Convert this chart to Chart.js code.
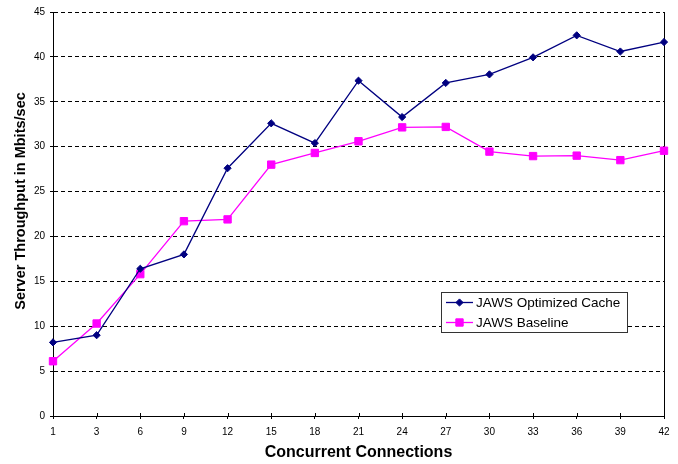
<!DOCTYPE html>
<html>
<head>
<meta charset="utf-8">
<script src="https://cdn.jsdelivr.net/npm/chart.js@4/dist/chart.umd.min.js"></script>
<style>
  html, body { margin: 0; padding: 0; background: #fff; }
  #wrap { width: 678px; height: 464px; }
</style>
</head>
<body>
<div id="wrap"><canvas id="c" width="678" height="464"></canvas></div>
<script>
// Concurrent connections (x categories)
const connections = ['1', '3', '6', '9', '12', '15', '18', '21', '24', '27', '30', '33', '36', '39', '42'];
// Server throughput in Mbits/sec
const optimizedCache = [8.2, 9.0, 16.4, 18.0, 27.6, 32.6, 30.4, 37.35, 33.3, 37.1, 38.05, 39.95, 42.4, 40.6, 41.65];
const baseline = [6.1, 10.3, 15.8, 21.7, 21.9, 28.0, 29.3, 30.6, 32.15, 32.2, 29.45, 28.95, 29.0, 28.5, 29.55];
// Y axis range and step
const yMin = 0, yMax = 45, yStep = 5;

const seriesNames = ['JAWS Optimized Cache', 'JAWS Baseline'];
const FONT = "'Liberation Sans', Arial, Helvetica, sans-serif";

Chart.defaults.font.family = FONT;
Chart.defaults.color = '#000';

function drawMarker(ctx, style, x, y, r, fill, stroke) {
  ctx.save();
  ctx.fillStyle = fill;
  ctx.strokeStyle = stroke;
  ctx.lineWidth = 1;
  ctx.beginPath();
  if (style === 'rectRot') {
    ctx.moveTo(x - r, y); ctx.lineTo(x, y - r); ctx.lineTo(x + r, y); ctx.lineTo(x, y + r);
    ctx.closePath();
  } else {
    const s = Math.SQRT1_2 * r;
    ctx.rect(x - s, y - s, 2 * s, 2 * s);
  }
  ctx.fill(); ctx.stroke();
  ctx.restore();
}

// Frame details: right border, inner x tick marks, rotated y title, boxed legend
const framePlugin = {
  id: 'frame',
  beforeDatasetsDraw(chart) {
    const { ctx, chartArea: a, scales } = chart;
    ctx.save();
    ctx.strokeStyle = '#000';
    ctx.lineWidth = 1;
    ctx.beginPath();
    ctx.moveTo(Math.round(a.right) + 0.5, a.top);
    ctx.lineTo(Math.round(a.right) + 0.5, a.bottom);
    connections.forEach((c, i) => {
      const x = Math.round(scales.x.getPixelForValue(i)) + 0.5;
      ctx.moveTo(x, a.bottom - 3);
      ctx.lineTo(x, a.bottom);
    });
    ctx.stroke();
    ctx.restore();
  },
  afterDraw(chart) {
    const { ctx } = chart;
    // y axis title
    ctx.save();
    ctx.translate(21, 201);
    ctx.rotate(-Math.PI / 2);
    ctx.font = 'bold 14.5px ' + FONT;
    ctx.fillStyle = '#000';
    ctx.textAlign = 'center';
    ctx.textBaseline = 'middle';
    ctx.fillText('Server Throughput in Mbits/sec', 0, 0);
    ctx.restore();

    // legend
    const bx = 441, by = 292, bw = 186, bh = 40;
    ctx.save();
    ctx.fillStyle = '#fff';
    ctx.fillRect(bx, by, bw, bh);
    ctx.strokeStyle = '#333';
    ctx.lineWidth = 1;
    ctx.strokeRect(bx + 0.5, by + 0.5, bw, bh);
    ctx.font = '13.5px ' + FONT;
    ctx.textBaseline = 'middle';
    chart.data.datasets.forEach((ds, i) => {
      const y = by + 10.5 + i * 20;
      ctx.strokeStyle = ds.borderColor;
      ctx.lineWidth = 1.3;
      ctx.beginPath();
      ctx.moveTo(446, y); ctx.lineTo(473, y);
      ctx.stroke();
      drawMarker(ctx, ds.pointStyle, 459.5, y, ds.pointRadius, ds.pointBackgroundColor, ds.pointBorderColor);
      ctx.fillStyle = '#000';
      ctx.fillText(ds.label, 476, y + 0.5);
    });
    ctx.restore();
  }
};

new Chart(document.getElementById('c'), {
  type: 'line',
  data: {
    labels: connections,
    datasets: [
      {
        label: seriesNames[0],
        data: optimizedCache,
        borderColor: '#000080',
        borderWidth: 1.3,
        pointStyle: 'rectRot',
        pointRadius: 3.6,
        pointBackgroundColor: '#000080',
        pointBorderColor: '#000080',
        pointBorderWidth: 1,
        tension: 0
      },
      {
        label: seriesNames[1],
        data: baseline,
        borderColor: '#FF00FF',
        borderWidth: 1.3,
        pointStyle: 'rect',
        pointRadius: 5.2,
        pointBackgroundColor: '#FF00FF',
        pointBorderColor: '#FF00FF',
        pointBorderWidth: 1,
        tension: 0
      }
    ]
  },
  options: {
    responsive: false,
    animation: false,
    events: [],
    layout: { padding: { top: 12, right: 14, left: 0, bottom: 0 } },
    plugins: {
      legend: { display: false },
      tooltip: { enabled: false }
    },
    scales: {
      x: {
        type: 'category',
        offset: false,
        grid: {
          display: true,
          drawOnChartArea: false,
          drawTicks: true,
          tickLength: 3,
          color: '#000',
          lineWidth: 1
        },
        border: { display: true, color: '#000', width: 1 },
        ticks: {
          padding: 7,
          autoSkip: false,
          maxRotation: 0,
          font: { size: 10 },
          color: '#000'
        },
        title: {
          display: true,
          text: 'Concurrent Connections',
          font: { size: 16, weight: 'bold' },
          color: '#000',
          padding: { top: 0, bottom: 2 }
        },
        afterFit(scale) { scale.height = 48; }
      },
      y: {
        min: yMin,
        max: yMax,
        grid: {
          color: '#000',
          lineWidth: 1,
          drawTicks: true,
          tickLength: 3,
          tickBorderDash: [],
          tickColor: '#000'
        },
        border: { display: true, color: '#000', width: 1, dash: [4, 3] },
        ticks: {
          stepSize: yStep,
          padding: 5,
          font: { size: 10 },
          color: '#000'
        },
        afterFit(scale) { scale.width = 53; }
      }
    }
  },
  plugins: [framePlugin]
});
</script>
</body>
</html>
